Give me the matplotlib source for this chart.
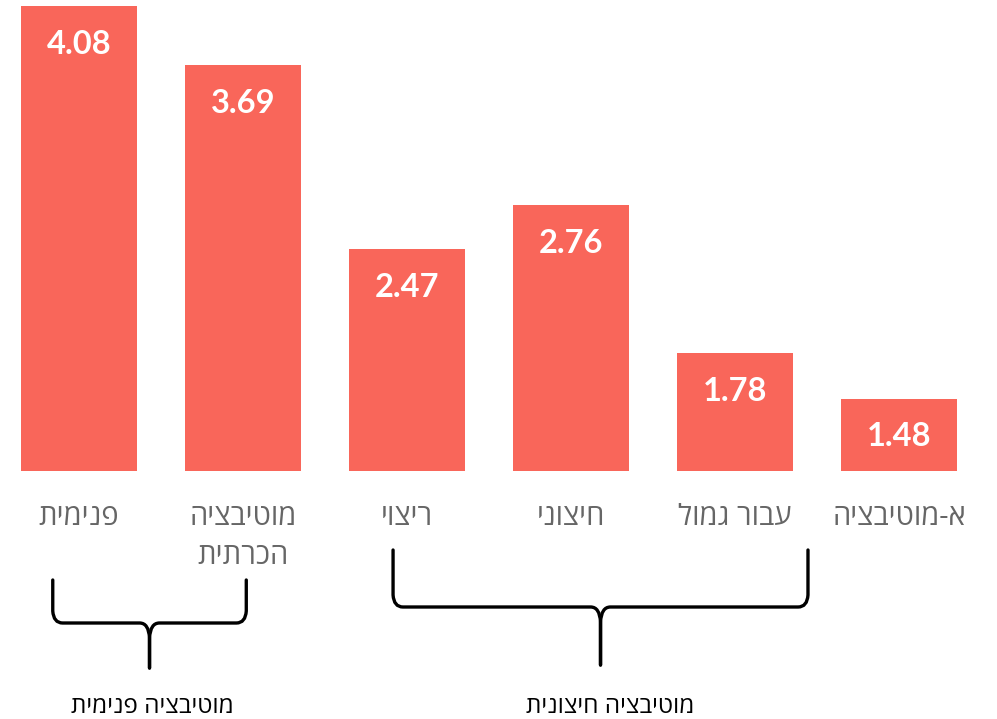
import matplotlib
matplotlib.use("Agg")
import matplotlib.pyplot as plt
from matplotlib.path import Path
from matplotlib.patches import PathPatch

# נתונים
categories = ["פנימית", "מוטיבציה\nהכרתית", "ריצוי", "חיצוני", "עבור גמול", "א-מוטיבציה"]
values = [4.08, 3.69, 2.47, 2.76, 1.78, 1.48]
group_names = ["מוטיבציה פנימית", "מוטיבציה חיצונית"]
group_members = [[0, 1], [2, 3, 4]]

BAR_COLOR = "#F9665A"
LABEL_GREY = "#666666"
HEB_FONT = ["Open Sans", "Liberation Sans", "DejaVu Sans"]


def rtl(s):
    # matplotlib kennt kein bidi -> Zeilen umdrehen
    return "\n".join(line[::-1] for line in s.split("\n"))


W, H = 997, 719
fig = plt.figure(figsize=(W / 100, H / 100), dpi=100)

# x: Balkenmitte 79 px, Abstand 164 px
xlim = (-79 / 164, (W - 79) / 164)
base_px = 471
ax = fig.add_axes([0, (H - base_px) / H, 1, base_px / H])
ax.set_xlim(*xlim)
ax.set_ylim(1.0, 1.0 + base_px / 150.9)
ax.axis("off")

x = list(range(len(values)))
ax.bar(x, values, width=116 / 164, color=BAR_COLOR, zorder=2)
for xi, v in zip(x, values):
    ax.annotate(f"{v:.2f}", (xi, v), xytext=(0, -27.5), textcoords="offset points",
                ha="center", va="center", color="white", fontsize=23.5,
                fontweight="bold", family=["Lato", "DejaVu Sans"])

# Overlay in Pixelkoordinaten (y) für Beschriftung und Klammern
ov = fig.add_axes([0, 0, 1, 1])
ov.set_xlim(*xlim)
ov.set_ylim(H, 0)
ov.axis("off")

for xi, cat in zip(x, categories):
    ov.text(xi, 503, rtl(cat), ha="center", va="top", fontsize=21,
            color=LABEL_GREY, family=HEB_FONT, linespacing=1.45)


def brace(x0, x1, xm, ytop, ymid, ybot, r=0.06, rm=0.06, dy=15):
    for xe, s in ((x0, 1), (x1, -1)):
        verts = [(xe, ytop), (xe, ymid - 12), (xe + 0.005 * s, ymid), (xe + r * s, ymid),
                 (xm - rm * s, ymid), (xm - 0.005 * s, ymid), (xm, ymid + dy), (xm, ybot)]
        codes = [Path.MOVETO, Path.LINETO, Path.CURVE3, Path.CURVE3,
                 Path.LINETO, Path.CURVE3, Path.CURVE3, Path.LINETO]
        ov.add_patch(PathPatch(Path(verts, codes), fill=False, lw=2.4,
                               color="black", capstyle="round", joinstyle="round"))


brace_spans = [(-0.16, 1.02, 580, 623, 668), (1.915, 4.445, 550, 607, 665)]
label_dx = [0.02, 0.06]
for members, name, (b0, b1, yt, ym, yb), dx in zip(group_members, group_names, brace_spans, label_dx):
    xm = (b0 + b1) / 2
    brace(b0, b1, xm, yt, ym, yb)
    ov.text(xm + dx, 707, rtl(name), ha="center", va="center", fontsize=17.5,
            color="black", family=HEB_FONT)

fig.savefig("out.png", dpi=100)
